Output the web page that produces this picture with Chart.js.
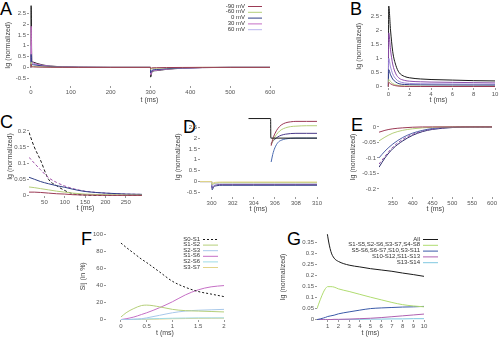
<!DOCTYPE html>
<html>
<head>
<meta charset="utf-8">
<script src="https://cdn.jsdelivr.net/npm/chart.js@4.4.1/dist/chart.umd.min.js"></script>
<style>
  body { margin:0; width:500px; height:338px; background:#fff; position:relative; overflow:hidden; font-family:"Liberation Sans", Arial, sans-serif; }
  .p  { position:absolute; }
  .lt { position:absolute; font-size:18px; line-height:1; color:#000; }
</style>
</head>
<body>
<div class="lt" style="left:0;top:0">A</div>
<div class="lt" style="left:350px;top:0">B</div>
<div class="lt" style="left:0;top:113px">C</div>
<div class="lt" style="left:183px;top:118px">D</div>
<div class="lt" style="left:351px;top:116px">E</div>
<div class="lt" style="left:81px;top:230px">F</div>
<div class="lt" style="left:287px;top:230px">G</div>
<script>
/* ── DATA ── */
const vLabels = ["-90 mV", "-60 mV", "0 mV", "30 mV", "60 mV"];

// A: full protocol (ms)
const xtA  = [0, 100, 200, 300, 400, 500, 600];
const ytA  = [-0.5, 0, 0.5, 1, 1.5, 2, 2.5];
const tA   = [0, 0.3, 2, 6, 15, 30, 50, 80, 120, 200, 299.9, 300.3, 304, 315, 340, 380, 430, 500, 600];
const aAll = [0, 2.85, 0.3, 0.24, 0.18, 0.11, 0.06, 0.03, 0.01, 0, 0, -0.45, -0.2, -0.15, -0.09, -0.04, -0.01, 0, 0];
const a30  = [0, 1.9, 0.25, 0.2, 0.15, 0.09, 0.05, 0.025, 0.008, 0, 0, -0.35, -0.17, -0.13, -0.08, -0.035, -0.01, 0, 0];
const a60  = [0, 1.0, 0.2, 0.16, 0.12, 0.08, 0.045, 0.02, 0.006, 0, 0, -0.3, -0.15, -0.12, -0.07, -0.03, -0.008, 0, 0];
const a0   = [0, 0.6, 0.15, 0.12, 0.1, 0.06, 0.035, 0.015, 0.005, 0, 0, -0.25, -0.13, -0.1, -0.06, -0.025, -0.006, 0, 0];
const aM60 = [0, 0.25, 0.05, 0.04, 0.03, 0.02, 0.01, 0.005, 0, 0, 0, -0.1, -0.05, -0.04, -0.02, -0.01, 0, 0, 0];
const aM90 = [0, 0.15, 0.03, 0.02, 0.015, 0.01, 0.005, 0.002, 0, 0, 0, -0.05, -0.02, -0.015, -0.008, -0.003, 0, 0, 0];

// B: first 10 ms
const xtB  = [0, 2, 4, 6, 8, 10];
const ytB  = [0, 0.5, 1, 1.5, 2, 2.5];
const tB   = [0, 0.03, 0.2, 0.4, 0.7, 1, 1.5, 2, 3, 4, 6, 8, 10];
const bAll = [0, 2.85, 2.0, 1.25, 0.75, 0.5, 0.36, 0.31, 0.27, 0.25, 0.23, 0.21, 0.2];
const b30  = [0, 1.9, 1.3, 0.8, 0.45, 0.3, 0.22, 0.19, 0.17, 0.16, 0.15, 0.14, 0.13];
const b60  = [0, 1.0, 0.7, 0.45, 0.27, 0.18, 0.13, 0.11, 0.1, 0.095, 0.09, 0.085, 0.08];
const b0   = [0, 0.6, 0.42, 0.27, 0.16, 0.1, 0.075, 0.065, 0.06, 0.058, 0.055, 0.052, 0.05];
const bM60 = [0, 0.25, 0.18, 0.11, 0.06, 0.035, 0.02, 0.015, 0.012, 0.01, 0.01, 0.01, 0.01];
const bM90 = [0, 0.15, 0.1, 0.06, 0.03, 0.015, 0.008, 0.005, 0.004, 0.003, 0.003, 0.003, 0.003];

// C: slow component
const xtC  = [50, 100, 150, 200, 250];
const ytC  = [0, 0.05, 0.1, 0.15, 0.2];
const tC   = [12, 25, 40, 60, 80, 100, 120, 150, 200, 250, 290];
const cBlk = [0.195, 0.15, 0.11, 0.05, 0.03, 0.015, 0.005, 0.001, 0, 0, 0];
const cMag = [0.118, 0.1, 0.08, 0.055, 0.04, 0.029, 0.021, 0.013, 0.007, 0.004, 0.003];
const cBlu = [0.056, 0.05, 0.043, 0.036, 0.03, 0.025, 0.019, 0.012, 0.007, 0.004, 0.003];
const cGrn = [0.026, 0.024, 0.021, 0.017, 0.013, 0.01, 0.007, 0.004, 0.002, 0.001, 0.001];
const cRed = [0.01, 0.01, 0.009, 0.007, 0.005, 0.004, 0.002, 0.001, 0, 0, 0];

// D: OFF step, lower traces and upper inset traces
const xtD  = [300, 302, 304, 306, 308, 310];
const ytD  = [-0.5, 0, 0.5, 1, 1.5, 2, 2.5];
const tDl  = [298.9, 300, 300.05, 300.2, 300.5, 301, 302, 304, 306, 308, 310];
const dYel = [0, 0, -0.1, -0.05, -0.03, -0.02, -0.02, -0.02, -0.02, -0.02, -0.02];
const dGrn = [0, 0, -0.15, -0.09, -0.06, -0.05, -0.05, -0.05, -0.05, -0.05, -0.05];
const dLav = [0, 0, -0.2, -0.12, -0.08, -0.07, -0.07, -0.07, -0.07, -0.07, -0.07];
const dMag = [0, 0, -0.3, -0.2, -0.15, -0.13, -0.13, -0.13, -0.13, -0.13, -0.13];
const dBlu = [0, 0, -0.38, -0.25, -0.19, -0.17, -0.17, -0.17, -0.17, -0.17, -0.17];
const tDs  = [303.5, 305.6, 305.62, 310];
const dStep = [2.9, 2.9, 2.0, 2.0];
const tDu  = [305.65, 305.8, 306, 306.3, 306.6, 307, 307.5, 308, 309, 310];
const dRedU = [1.65, 1.95, 2.2, 2.45, 2.6, 2.7, 2.75, 2.77, 2.77, 2.77];
const dGrnU = [1.7, 1.85, 2.05, 2.25, 2.38, 2.47, 2.53, 2.55, 2.57, 2.57];
const dMagU = [1.75, 1.85, 1.95, 2.06, 2.13, 2.18, 2.21, 2.22, 2.22, 2.22];
const dBluU = [0.9, 1.25, 1.55, 1.8, 1.9, 1.96, 1.99, 2.0, 2.0, 2.0];

// E: OFF response tail
const xtE  = [350, 400, 450, 500, 550, 600];
const ytE  = [-0.2, -0.15, -0.1, -0.05, 0];
const tE   = [315, 330, 350, 375, 400, 425, 450, 500, 550, 600];
const eDrk = [-0.13, -0.1, -0.07, -0.045, -0.027, -0.015, -0.008, -0.002, 0, 0];
const eMag = [-0.12, -0.095, -0.065, -0.04, -0.024, -0.013, -0.007, -0.001, 0, 0];
const eBlu = [-0.1, -0.078, -0.055, -0.034, -0.02, -0.011, -0.005, -0.001, 0, 0];
const eGrn = [-0.045, -0.033, -0.02, -0.011, -0.006, -0.003, -0.001, 0, 0, 0];
const eRed = [-0.017, -0.011, -0.006, -0.003, -0.001, 0, 0, 0, 0, 0];

// F: transition contributions (%)
const fLabels = ["S0-S1", "S1-S2", "S2-S3", "S1-S6", "S2-S6", "S3-S7"];
const xtF  = [0, 0.5, 1, 1.5, 2];
const ytF  = [0, 20, 40, 60, 80, 100];
const tF   = [0, 0.1, 0.25, 0.4, 0.5, 0.75, 1, 1.25, 1.5, 1.75, 2];
const f01  = [90, 85, 78, 71, 67, 56, 45, 38, 33, 30, 27];
const f12  = [3, 8, 13, 16.5, 17, 15, 12, 10.5, 10, 9.5, 9];
const f23  = [0, 0, 0.5, 1, 2, 5, 8, 10, 11, 11.5, 12];
const f16  = [0, 1, 3, 6, 8, 14, 21, 29, 35, 38.5, 40];
const f26  = [0, 0, 0.3, 0.6, 0.8, 1.2, 1.6, 1.8, 2, 2, 2];
const f37  = [0, 0, 0.1, 0.2, 0.3, 0.6, 1, 1.2, 1.4, 1.5, 1.6];

// G: grouped transitions
const gLabels = ["All", "S1-S5,S2-S6,S3-S7,S4-S8", "S5-S6,S6-S7,S10,S3-S11", "S10-S12,S11-S13", "S13-S14"];
const xtG  = [1, 2, 3, 4, 5, 6, 7, 8, 9, 10];
const ytG  = [0, 0.05, 0.1, 0.15, 0.2, 0.25, 0.3, 0.35];
const tG   = [0, 0.3, 0.6, 0.8, 1, 1.3, 1.6, 2, 3, 4, 5, 6, 7, 8, 9, 10];
const gAll = [0.9, 0.75, 0.6, 0.46, 0.38, 0.31, 0.28, 0.265, 0.248, 0.24, 0.232, 0.226, 0.22, 0.212, 0.205, 0.197];
const gS15 = [0.05, 0.09, 0.125, 0.142, 0.15, 0.15, 0.148, 0.14, 0.128, 0.115, 0.102, 0.09, 0.078, 0.068, 0.062, 0.058];
const gS56 = [0, 0.003, 0.007, 0.01, 0.014, 0.017, 0.02, 0.026, 0.035, 0.043, 0.05, 0.053, 0.055, 0.057, 0.058, 0.06];
const gS10 = [0, 0, 0, 0, 0, 0, 0.001, 0.001, 0.002, 0.004, 0.006, 0.009, 0.013, 0.017, 0.021, 0.025];
const gS13 = [0, 0, 0, 0, 0, 0, 0, 0, 0.001, 0.001, 0.002, 0.002, 0.003, 0.003, 0.004, 0.004];

/* ── STYLE ── */
Chart.defaults.font.family = '"Liberation Sans", Arial, sans-serif';
Chart.defaults.font.size = 6;
Chart.defaults.color = "#555";

const RED = "#9b3a55", GRN = "#b5cf7a", BLU = "#2f3f86", MAG = "#c56fc5", LAV = "#b9b6ee", BLK = "#1a1a1a", YEL = "#e2d48a", LBL = "#a8c8ea", CYA = "#9fdbe6";

function pts(xs, ys) { return xs.map((x, i) => ({ x: x, y: ys[i] })); }
function ln(label, xs, ys, color, dash) {
  return { label: label, data: pts(xs, ys), borderColor: color, backgroundColor: color, borderWidth: 1,
           borderDash: dash || [], pointRadius: 0, cubicInterpolationMode: "monotone", fill: false };
}
const num = v => String(+v.toFixed(3));

function axis(min, max, ticks, title, pad) {
  return {
    type: "linear", min: min, max: max,
    afterBuildTicks: s => { s.ticks = ticks.map(v => ({ value: v })); },
    ticks: { autoSkip: false, maxRotation: 0, padding: 1, callback: v => num(v) },
    grid: { drawOnChartArea: false, tickLength: 2, color: "#999" },
    border: { display: false },
    title: { display: true, text: title, padding: pad, color: "#444", font: { size: 7 } }
  };
}

/* ── KEY (gnuplot style: text right, sample after); x,y relative to canvas ── */
const keyPlugin = {
  id: "key",
  afterDraw(chart, args, o) {
    if (o.x == null) return;
    const ctx = chart.ctx;
    ctx.save();
    ctx.font = '6px "Liberation Sans", Arial, sans-serif';
    ctx.textAlign = "right"; ctx.textBaseline = "middle";
    chart.data.datasets.filter(d => d.label).forEach((d, i) => {
      const y = o.y + i * o.row;
      ctx.fillStyle = "#333";
      ctx.fillText(d.label, o.x, y);
      ctx.strokeStyle = d.borderColor; ctx.lineWidth = 1; ctx.setLineDash(d.borderDash || []);
      ctx.beginPath(); ctx.moveTo(o.x + 3, y + 0.5); ctx.lineTo(o.x + o.len, y + 0.5); ctx.stroke();
    });
    ctx.restore();
  }
};

/* ── PANEL ── box=[left,top,w,h] area=[L,T,R,B] in page px */
function panel(box, area, datasets, x, y, key) {
  const cv = document.createElement("canvas");
  cv.width = box[2]; cv.height = box[3];
  cv.className = "p";
  cv.style.left = box[0] + "px"; cv.style.top = box[1] + "px";
  document.body.appendChild(cv);
  x.afterFit = s => { s.height = box[1] + box[3] - area[3]; };
  y.afterFit = s => { s.width = area[0] - box[0]; };
  return new Chart(cv, {
    type: "line",
    data: { datasets: datasets },
    options: {
      responsive: false, animation: false,
      layout: { padding: { left: 0, top: area[1] - box[1], right: box[0] + box[2] - area[2], bottom: 0 } },
      scales: { x: x, y: y },
      plugins: { legend: { display: false }, tooltip: { enabled: false }, key: key || {} }
    },
    plugins: [keyPlugin]
  });
}

const YT = "Ig (normalized)", XT = "t (ms)";

// A
panel([0, 0, 290, 105], [29, 2, 270, 86], [
  ln(vLabels[0], tA, aM90, RED), ln(vLabels[1], tA, aM60, GRN), ln(vLabels[2], tA, a0, BLU),
  ln(vLabels[3], tA, a30, MAG), ln(vLabels[4], tA, a60, LAV), ln("", tA, aAll, BLK)
], axis(-5, 600, xtA, XT, { top: 2, bottom: 1 }), axis(-0.86, 2.9, ytA, YT, { top: 4, bottom: 0 }),
   { x: 245, y: 6, row: 5.8, len: 17 });

// B
panel([345, 0, 155, 105], [382, 1, 495, 88], [
  ln("", tB, bM90, RED), ln("", tB, bM60, GRN), ln("", tB, b0, BLU),
  ln("", tB, b60, "#9a88d8"), ln("", tB, b30, "#8a4aa8"), ln("", tB, bAll, BLK)
], axis(-0.6, 10, xtB, XT, { top: 2, bottom: 1 }), axis(-0.05, 2.9, ytB, YT, { top: 10, bottom: 0 }));

// C
panel([0, 112, 165, 101], [29, 117, 142, 196], [
  ln("", tC, cRed, RED), ln("", tC, cGrn, GRN), ln("", tC, cBlu, BLU),
  ln("", tC, cMag, "#a050a8", [3, 2]), ln("", tC, cBlk, BLK, [3, 2])
], axis(12, 290, xtC, XT, { top: 2, bottom: 1 }), axis(-0.002, 0.243, ytC, YT, { top: 6, bottom: 0 }));

// D
panel([165, 112, 160, 102], [200, 114, 317, 197], [
  ln("", tDl, dYel, YEL), ln("", tDl, dGrn, GRN), ln("", tDl, dLav, LAV),
  ln("", tDl, dMag, "#6a4a9a"), ln("", tDl, dBlu, BLU),
  ln("", tDs, dStep, BLK),
  ln("", tDu, dRedU, RED), ln("", tDu, dGrnU, GRN), ln("", tDu, dMagU, "#4a3a8a"), ln("", tDu, dBluU, "#4a6ab0")
], axis(298.9, 310, xtD, XT, { top: 2, bottom: 1 }), axis(-0.71, 2.99, ytD, YT, { top: 9, bottom: 0 }));

// E
panel([325, 112, 175, 102], [379, 117, 492, 197], [
  ln("", tE, eRed, RED), ln("", tE, eGrn, GRN), ln("", tE, eBlu, "#5060a8"),
  ln("", tE, eMag, "#9050a8", [3, 2]), ln("", tE, eDrk, "#2a2a6a")
], axis(315, 600, xtE, XT, { top: 2, bottom: 1 }), axis(-0.226, 0.032, ytE, YT, { top: 24, bottom: 0 }));

// F
panel([75, 228, 165, 110], [106, 232, 224, 320], [
  ln(fLabels[0], tF, f01, BLK, [2, 2]), ln(fLabels[1], tF, f12, GRN), ln(fLabels[2], tF, f23, LBL),
  ln(fLabels[3], tF, f16, MAG), ln(fLabels[4], tF, f26, CYA), ln(fLabels[5], tF, f37, YEL)
], axis(-0.29, 2, xtF, XT, { top: 2, bottom: 1 }), axis(-0.5, 102.3, ytF, "Sij (in %)", { top: 4, bottom: 0 }),
   { x: 125, y: 11, row: 5.6, len: 18 });

// G
panel([270, 228, 230, 110], [317, 234, 424, 320], [
  ln(gLabels[0], tG, gAll, BLK), ln(gLabels[1], tG, gS15, "#b0dc70"), ln(gLabels[2], tG, gS56, "#3a5aa8"),
  ln(gLabels[3], tG, gS10, "#b060b0"), ln(gLabels[4], tG, gS13, "#80c8e0")
], axis(0, 10, xtG, XT, { top: 2, bottom: 1 }), axis(-0.002, 0.39, ytG, YT, { top: 9, bottom: 0 }),
   { x: 150, y: 11, row: 5.8, len: 18 });
</script>
</body>
</html>
